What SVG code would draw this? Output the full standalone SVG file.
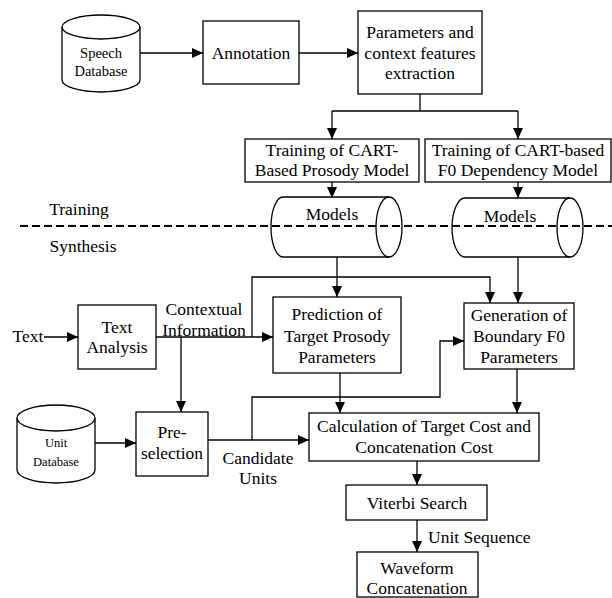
<svg xmlns="http://www.w3.org/2000/svg" width="612" height="598" viewBox="0 0 612 598">
<style>
text{font-family:"Liberation Serif","Times New Roman","DejaVu Serif",serif;font-size:17.5px;fill:#000;text-anchor:middle;dominant-baseline:central}
.b{fill:#fff;stroke:#000;stroke-width:1.3}
.cyl{fill:none;stroke:#000;stroke-width:1.3}
.c{fill:none;stroke:#000;stroke-width:1.3}
.a{marker-end:url(#ah)}
.dash{stroke:#000;stroke-width:2;stroke-dasharray:8 4}
</style>
<defs>
<marker id="ah" markerUnits="userSpaceOnUse" markerWidth="12" markerHeight="10" refX="11" refY="5" orient="auto">
<path d="M0,0 L11,5 L0,10 Z" fill="#000"/>
</marker>
</defs>
<g id="labels">
<text x="79" y="209">Training</text>
<text x="83" y="246">Synthesis</text>
<text x="28" y="336">Text</text>
<text x="204" y="309">Contextual</text>
<text x="204" y="330">Information</text>
<text x="258" y="458">Candidate</text>
<text x="258" y="478">Units</text>
<text x="428" y="537" style="text-anchor:start">Unit Sequence</text>
</g>
<g id="speechdb">
<path class="cyl" d="M62,27 V80 A39 12 0 0 0 140,80 V27"/>
<ellipse class="cyl" cx="101" cy="27" rx="39" ry="12"/>
<text x="101" y="53" style="font-size:14.5px">Speech</text>
<text x="101" y="71" style="font-size:14.5px">Database</text>
</g>
<g id="annotation">
<rect class="b" x="203" y="21" width="96" height="63"/>
<text x="251" y="53">Annotation</text>
</g>
<g id="params">
<rect class="b" x="358" y="11" width="124" height="83"/>
<text x="420" y="32">Parameters and</text>
<text x="420" y="53">context features</text>
<text x="420" y="73">extraction</text>
</g>
<g id="train1">
<rect class="b" x="245" y="139" width="174" height="43"/>
<text x="332" y="150">Training of CART-</text>
<text x="332" y="170">Based Prosody Model</text>
</g>
<g id="train2">
<rect class="b" x="425" y="139" width="186" height="43"/>
<text x="518" y="150">Training of CART-based</text>
<text x="518" y="170">F0 Dependency Model</text>
</g>
<g id="models1">
<path class="cyl" d="M283,197 H389 M389,257 H283 A12 30 0 0 1 283,197"/>
<ellipse class="cyl" cx="389" cy="227" rx="13" ry="30"/>
<text x="332" y="214">Models</text>
</g>
<g id="models2">
<path class="cyl" d="M465,198 H570 M570,257 H465 A13 29.5 0 0 1 465,198"/>
<ellipse class="cyl" cx="570" cy="227.5" rx="13" ry="29.5"/>
<text x="510" y="216">Models</text>
</g>
<line class="dash" x1="20" y1="226" x2="612" y2="226"/>
<g id="textanalysis">
<rect class="b" x="78" y="305" width="78" height="64"/>
<text x="117" y="327">Text</text>
<text x="117" y="347">Analysis</text>
</g>
<g id="prediction">
<rect class="b" x="273" y="297" width="128" height="76"/>
<text x="337" y="314">Prediction of</text>
<text x="337" y="336">Target Prosody</text>
<text x="337" y="357">Parameters</text>
</g>
<g id="generation">
<rect class="b" x="464" y="303" width="110" height="66"/>
<text x="519" y="315">Generation of</text>
<text x="519" y="336">Boundary F0</text>
<text x="519" y="357">Parameters</text>
</g>
<g id="unitdb">
<path class="cyl" d="M17,418 V470 A39 13 0 0 0 95,470 V418"/>
<ellipse class="cyl" cx="56" cy="418" rx="39" ry="13"/>
<text x="56" y="443" style="font-size:12.5px">Unit</text>
<text x="56" y="462" style="font-size:12.5px">Database</text>
</g>
<g id="preselection">
<rect class="b" x="136" y="412" width="72" height="64"/>
<text x="172" y="432">Pre-</text>
<text x="172" y="453">selection</text>
</g>
<g id="calc">
<rect class="b" x="309" y="413" width="230" height="48"/>
<text x="424" y="426">Calculation of Target Cost and</text>
<text x="424" y="447">Concatenation Cost</text>
</g>
<g id="viterbi">
<rect class="b" x="346" y="485" width="141" height="35"/>
<text x="417" y="503">Viterbi Search</text>
</g>
<g id="waveform">
<rect class="b" x="357" y="552" width="121" height="45"/>
<text x="417" y="568">Waveform</text>
<text x="417" y="588">Concatenation</text>
</g>
<g id="connectors">
<path class="c a" d="M140,53 H203"/>
<path class="c a" d="M299,53 H358"/>
<path class="c" d="M420,94 V111 M332,111 H518"/>
<path class="c a" d="M332,111 V139"/>
<path class="c a" d="M518,111 V139"/>
<path class="c a" d="M332,182 V198"/>
<path class="c a" d="M518,182 V198"/>
<path class="c a" d="M337,257 V297"/>
<path class="c a" d="M518,257 V303"/>
<path class="c a" d="M44,337 H78"/>
<path class="c a" d="M156,337 H273"/>
<path class="c a" d="M252,337 V277 H490 V303"/>
<path class="c a" d="M181,337 V412"/>
<path class="c a" d="M95,443 H136"/>
<path class="c a" d="M208,440 H309"/>
<path class="c a" d="M252,440 V397 H440 V341 H464"/>
<path class="c a" d="M340,373 V413"/>
<path class="c a" d="M517,369 V413"/>
<path class="c a" d="M417,461 V485"/>
<path class="c a" d="M417,520 V552"/>
</g>
</svg>
